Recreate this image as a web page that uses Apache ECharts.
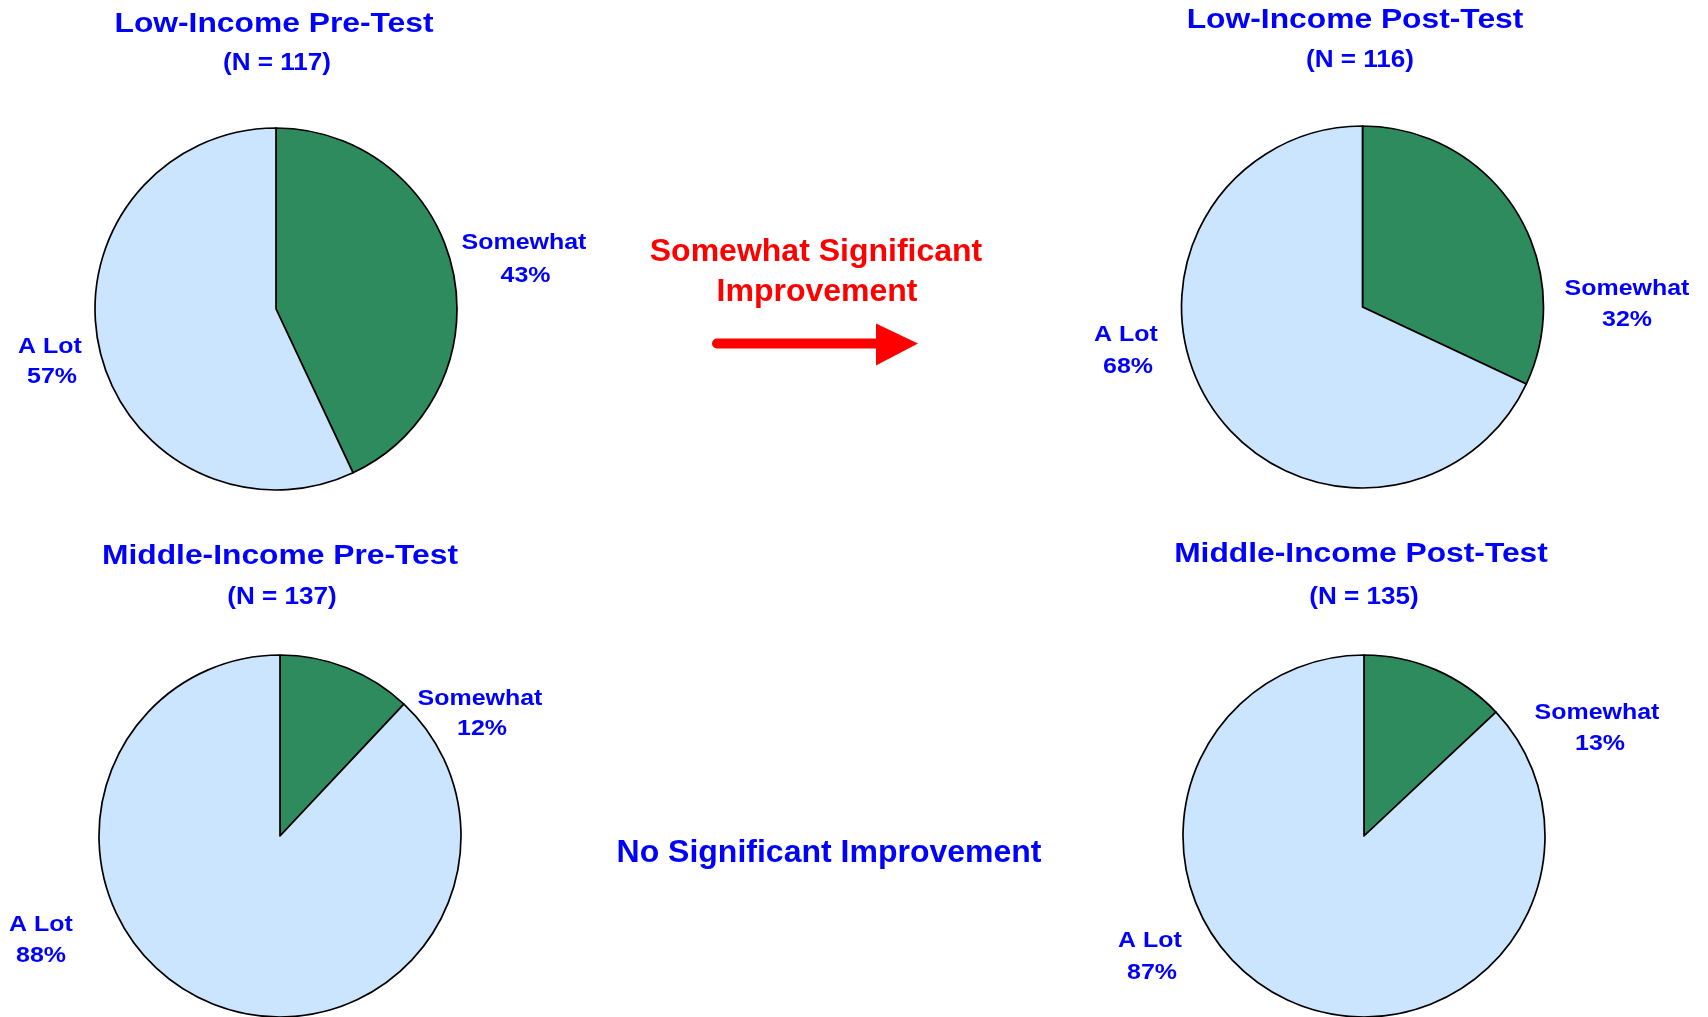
<!DOCTYPE html>
<html>
<head>
<meta charset="utf-8">
<title>Pre/Post Test pies</title>
<script src="https://cdn.jsdelivr.net/npm/echarts@6/dist/echarts.min.js"></script>
<style>
    html, body { margin: 0; padding: 0; width: 1708px; height: 1017px; overflow: hidden; background: #fff; }
    #main { width: 1708px; height: 1017px; }
</style>
</head>
<body>
<div id="main"></div>

<script>
// data
var panelTitles = ['Low-Income Pre-Test', 'Low-Income Post-Test', 'Middle-Income Pre-Test', 'Middle-Income Post-Test'];
var sampleSizes = [117, 116, 137, 135];
var categories = ['Somewhat', 'A Lot'];
var somewhatPct = [43, 32, 12, 13];
var aLotPct = [57, 68, 88, 87];
var noteTop = ['Somewhat Significant', 'Improvement'];
var noteBottom = 'No Significant Improvement';

// layout (pixels)
var pieCenters = [[276, 309], [1362.5, 307], [280, 836], [1364, 836]];
var pieRadius = 181;
var titlePos = [
    { x: 274, y: 24, nx: 277, ny: 64 },
    { x: 1355, y: 20.5, nx: 1360, ny: 61 },
    { x: 280, y: 556, nx: 282, ny: 597.5 },
    { x: 1361, y: 554, nx: 1364, ny: 597.5 }
];
// [somewhat, a lot] -> name line and percent line centres
var labelPos = [
    [{ x: 524, y: 242.5, px: 525.5, py: 276 }, { x: 50, y: 347, px: 52, py: 376.5 }],
    [{ x: 1627, y: 288.5, px: 1627, py: 320 }, { x: 1126, y: 334.5, px: 1128, py: 366.5 }],
    [{ x: 480, y: 698.5, px: 482, py: 729 }, { x: 41, y: 924.5, px: 41, py: 955.5 }],
    [{ x: 1597, y: 712.5, px: 1600, py: 744 }, { x: 1150, y: 941, px: 1152, py: 972.5 }]
];
var STRETCH = 1.135; // panel texts in the original are a bit wide

var colors = ['#2E8B5E', '#CCE5FF'];
var FONT = '"Liberation Sans", Arial, Helvetica, sans-serif';

var series = pieCenters.map(function (c, i) {
    return {
        type: 'pie',
        center: c,
        radius: pieRadius,
        startAngle: 90,
        clockwise: true,
        silent: true,
        label: { show: false },
        labelLine: { show: false },
        itemStyle: { borderColor: '#000', borderWidth: 1.7 },
        data: [
            { name: categories[0], value: somewhatPct[i], itemStyle: { color: colors[0] } },
            { name: categories[1], value: aLotPct[i], itemStyle: { color: colors[1] } }
        ]
    };
});

var elements = [];
function txt(x, y, text, size, color, sx) {
    elements.push({
        type: 'text',
        x: x, y: y,
        scaleX: sx || 1,
        silent: true,
        style: {
            text: text,
            fill: color,
            font: 'bold ' + size + 'px ' + FONT,
            textAlign: 'center',
            textVerticalAlign: 'middle'
        }
    });
}

panelTitles.forEach(function (t, i) {
    var tp = titlePos[i];
    txt(tp.x, tp.y, t, 28, '#0000FF', STRETCH);
    txt(tp.nx, tp.ny, '(N = ' + sampleSizes[i] + ')', 23, '#0000FF', STRETCH);

    var vals = [somewhatPct[i], aLotPct[i]];
    categories.forEach(function (c, j) {
        var lp = labelPos[i][j];
        txt(lp.x, lp.y, c, 22, '#0000FF', STRETCH);
        txt(lp.px, lp.py, vals[j] + '%', 22, '#0000FF', STRETCH);
    });
});

// middle notes
txt(816, 252, noteTop[0], 32, '#FF0000');
txt(817, 292, noteTop[1], 32, '#FF0000');
txt(829, 853, noteBottom, 32, '#0000FF');

// arrow
elements.push({
    type: 'line',
    silent: true,
    shape: { x1: 717, y1: 343.5, x2: 880, y2: 343.5 },
    style: { stroke: '#FF0000', lineWidth: 10, lineCap: 'round' }
});
elements.push({
    type: 'polygon',
    silent: true,
    shape: { points: [[876, 323.5], [918, 343.5], [876, 365.5]] },
    style: { fill: '#FF0000' }
});

var chart = echarts.init(document.getElementById('main'));
chart.setOption({
    animation: false,
    backgroundColor: '#fff',
    series: series,
    graphic: { elements: elements }
});
</script>
</body>
</html>
